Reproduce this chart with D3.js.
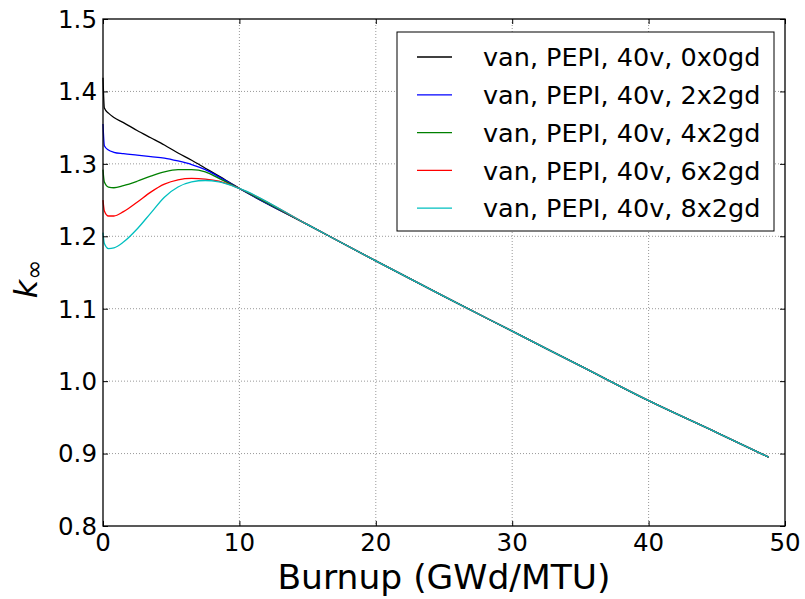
<!DOCTYPE html>
<html>
  <head>
    <meta charset="utf-8">
    <title>k-infinity vs burnup</title>
    <script src="https://d3js.org/d3.v7.min.js"></script>
    <style>
      body { margin: 0; background: #fff; }
      text { font-family: "DejaVu Sans", sans-serif; fill: #000; }
      .grid line { stroke: #999; stroke-width: 1; stroke-dasharray: 1,2; }
      .series { fill: none; stroke-width: 1.3; }
    </style>
  </head>
  <body>
    <svg id="chart" width="805" height="599"></svg>
    <script>
      // data
      burnup = [0, 0.1, 0.4, 0.8, 1.5, 2.5, 3.5, 4.5, 5.5, 6.5, 7.5, 8.5, 10, 15, 20, 25, 30, 35, 40, 45, 48.8];
      tail = [1.266, 1.216, 1.166, 1.117, 1.069, 1.021, 0.973, 0.929, 0.895];
      k0x0 = [1.419, 1.377, 1.370, 1.364, 1.357, 1.346, 1.336, 1.326, 1.315, 1.305, 1.294, 1.283].concat(tail);
      k2x2 = [1.355, 1.325, 1.319, 1.316, 1.314, 1.312, 1.310, 1.308, 1.304, 1.299, 1.292, 1.282].concat(tail);
      k4x2 = [1.292, 1.275, 1.268, 1.267, 1.270, 1.276, 1.283, 1.289, 1.292, 1.292, 1.289, 1.280].concat(tail);
      k6x2 = [1.250, 1.235, 1.228, 1.228, 1.234, 1.247, 1.261, 1.272, 1.278, 1.280, 1.279, 1.276].concat(tail);
      k8x2 = [1.205, 1.190, 1.183, 1.184, 1.192, 1.210, 1.232, 1.254, 1.268, 1.275, 1.277, 1.275].concat(tail);
      labels = ["van, PEPI, 40v, 0x0gd", "van, PEPI, 40v, 2x2gd", "van, PEPI, 40v, 4x2gd",
                "van, PEPI, 40v, 6x2gd", "van, PEPI, 40v, 8x2gd"];
      colours = ["#000000", "#0000ff", "#008000", "#ff0000", "#00bfbf"];
      xTicks = [0, 10, 20, 30, 40, 50];
      yTicks = [0.8, 0.9, 1.0, 1.1, 1.2, 1.3, 1.4, 1.5];

      series = [k0x0, k2x2, k4x2, k6x2, k8x2].map(function(k, i) {
        return { label: labels[i], colour: colours[i], values: k.map(function(v, j) { return [burnup[j], v]; }) };
      });

      svg = d3.select("#chart");
      margin = { top: 19, right: 20, bottom: 73, left: 103 };
      width = 805 - margin.left - margin.right;
      height = 599 - margin.top - margin.bottom;

      x = d3.scaleLinear().domain([0, 50]).range([0, width]);
      y = d3.scaleLinear().domain([0.8, 1.5]).range([height, 0]);

      plot = svg.append("g")
        .attr("transform", "translate(" + margin.left + "," + margin.top + ")");

      // dotted grid
      grid = plot.append("g").classed("grid", true);
      grid.selectAll(".gx")
          .data(xTicks.slice(1, -1))
        .enter().append("line")
          .attr("x1", x).attr("x2", x)
          .attr("y1", 0).attr("y2", height);
      grid.selectAll(".gy")
          .data(yTicks.slice(1, -1))
        .enter().append("line")
          .attr("y1", y).attr("y2", y)
          .attr("x1", 0).attr("x2", width);

      // curves, drawn in legend order so the last one sits on top
      line = d3.line()
        .x(function(d) { return x(d[0]); })
        .y(function(d) { return y(d[1]); })
        .curve(d3.curveMonotoneX);
      plot.selectAll(".series")
          .data(series)
        .enter().append("path")
          .classed("series", true)
          .attr("stroke", function(d) { return d.colour; })
          .attr("d", function(d) { return line(d.values); });

      // axes with inward ticks on all four sides
      function tickless(g) { g.select(".domain").remove(); g.selectAll("text").remove(); }
      plot.append("g").attr("transform", "translate(0," + height + ")")
        .call(d3.axisBottom(x).tickValues(xTicks).tickSize(-5)).call(tickless);
      plot.append("g")
        .call(d3.axisTop(x).tickValues(xTicks).tickSize(-5)).call(tickless);
      plot.append("g")
        .call(d3.axisLeft(y).tickValues(yTicks).tickSize(-5)).call(tickless);
      plot.append("g").attr("transform", "translate(" + width + ",0)")
        .call(d3.axisRight(y).tickValues(yTicks).tickSize(-5)).call(tickless);
      plot.selectAll(".tick line").attr("stroke", "#000").attr("stroke-width", 1);

      plot.append("rect")
        .attr("width", width).attr("height", height)
        .attr("fill", "none").attr("stroke", "#000").attr("stroke-width", 1.3);

      // tick labels
      plot.selectAll(".xl")
          .data(xTicks)
        .enter().append("text")
          .attr("x", x).attr("y", height + 25)
          .attr("text-anchor", "middle")
          .style("font-size", "24.5px")
          .text(function(d) { return d; });
      plot.selectAll(".yl")
          .data(yTicks)
        .enter().append("text")
          .attr("x", -6).attr("y", y)
          .attr("dy", "0.36em")
          .attr("text-anchor", "end")
          .style("font-size", "24.5px")
          .text(d3.format(".1f"));

      // axis titles
      svg.append("text")
        .attr("x", margin.left + width / 2).attr("y", 589)
        .attr("text-anchor", "middle")
        .style("font-size", "34.5px")
        .text("Burnup (GWd/MTU)");
      ylab = svg.append("text")
        .attr("transform", "translate(37,279) rotate(-90)")
        .attr("text-anchor", "middle")
        .style("font-size", "32px");
      ylab.append("tspan").style("font-style", "italic").text("k");
      ylab.append("tspan").attr("dy", 5).style("font-size", "24px").text("∞");

      // legend
      legend = plot.append("g").attr("transform", "translate(" + (397 - margin.left) + "," + (32 - margin.top) + ")");
      legend.append("rect")
        .attr("width", 377).attr("height", 199)
        .attr("fill", "#fff").attr("stroke", "#000").attr("stroke-width", 1);
      items = legend.selectAll(".item")
          .data(series)
        .enter().append("g")
          .attr("transform", function(d, i) { return "translate(0," + (25 + i * 37.8) + ")"; });
      items.append("line")
        .attr("x1", 20).attr("x2", 55)
        .attr("stroke", function(d) { return d.colour; })
        .attr("stroke-width", 1.3);
      items.append("text")
        .attr("x", 86).attr("dy", "0.36em")
        .style("font-size", "25.5px")
        .text(function(d) { return d.label; });
    </script>
  </body>
</html>
